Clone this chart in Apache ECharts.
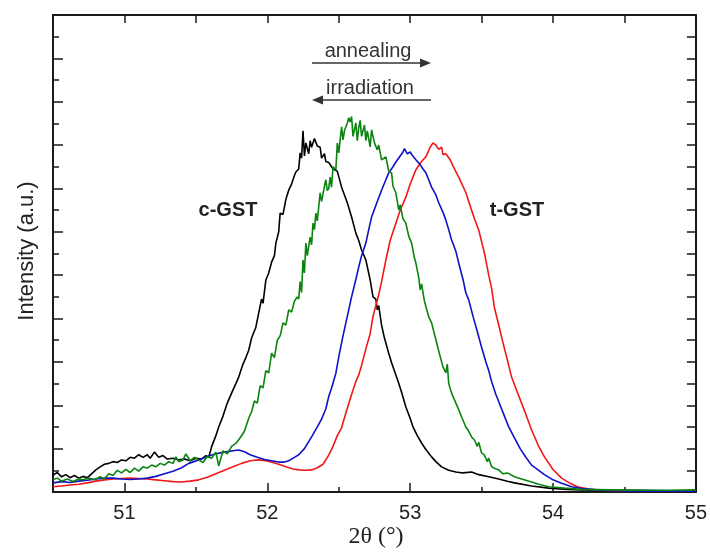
<!DOCTYPE html>
<html>
<head>
<meta charset="utf-8">
<script src="https://cdn.jsdelivr.net/npm/echarts@6/dist/echarts.min.js"></script>
<style>
html,body{margin:0;padding:0;background:#fff;}
#chart{width:710px;height:552px;}
</style>
</head>
<body>
<div id="chart"></div>
<script>
// x tick labels (2theta, degrees)
const xTickLabels = [51, 52, 53, 54, 55];

// c-GST (black) : [2theta, intensity a.u.]
const blackData = [
[50.50,0.39],[50.53,0.45],[50.56,0.35],[50.59,0.40],[50.62,0.33],[50.65,0.38],[50.68,0.32],[50.71,0.36],[50.74,0.33],[50.77,0.42],
[50.80,0.51],[50.83,0.58],[50.86,0.64],[50.89,0.66],[50.92,0.70],[50.95,0.68],[50.98,0.74],[51.01,0.72],[51.04,0.80],[51.07,0.78],
[51.10,0.86],[51.13,0.80],[51.16,0.86],[51.18,0.78],[51.21,0.92],[51.24,0.80],[51.27,0.84],[51.30,0.76],[51.34,0.78],[51.38,0.74],
[51.42,0.76],[51.46,0.72],[51.50,0.78],[51.54,0.76],[51.57,0.84],[51.59,0.80],[51.61,1.04],[51.64,1.30],[51.66,1.50],[51.69,1.75],
[51.72,2.05],[51.75,2.28],[51.78,2.50],[51.80,2.65],[51.83,2.95],[51.85,3.10],[51.87,3.27],[51.89,3.55],[51.92,3.80],[51.94,4.13],
[51.96,4.45],[51.97,4.35],[51.99,4.89],[52.01,5.05],[52.03,5.30],[52.05,5.45],[52.06,5.74],[52.08,6.00],[52.09,6.43],[52.11,6.40],
[52.13,6.75],[52.15,6.96],[52.17,7.10],[52.19,7.30],[52.20,7.38],[52.22,7.45],[52.23,7.82],[52.24,7.70],[52.25,8.33],[52.26,7.75],
[52.27,8.05],[52.29,7.80],[52.30,8.10],[52.31,7.95],[52.33,8.15],[52.35,7.98],[52.37,7.95],[52.38,7.70],[52.40,7.80],[52.41,7.62],
[52.43,7.60],[52.46,7.45],[52.49,7.40],[52.52,7.03],[52.54,6.85],[52.56,6.67],[52.59,6.34],[52.62,5.97],[52.64,5.80],[52.66,5.58],
[52.69,5.35],[52.72,4.89],[52.74,4.50],[52.76,4.45],[52.77,4.20],[52.78,4.30],[52.80,3.85],[52.82,3.55],[52.85,3.20],[52.87,2.98],
[52.90,2.70],[52.92,2.51],[52.94,2.30],[52.97,1.96],[53.00,1.70],[53.02,1.50],[53.05,1.30],[53.08,1.13],[53.11,0.98],[53.15,0.81],
[53.18,0.70],[53.22,0.58],[53.27,0.50],[53.32,0.46],[53.37,0.44],[53.43,0.46],[53.48,0.40],[53.55,0.35],[53.62,0.30],[53.68,0.25],
[53.73,0.21],[53.85,0.14],[53.97,0.09],[54.10,0.06],[54.20,0.05],[54.40,0.04],[54.60,0.04],[54.80,0.03],[55.00,0.03]
];

// green
const greenData = [
[50.50,0.28],[50.53,0.32],[50.56,0.25],[50.60,0.30],[50.64,0.24],[50.68,0.30],[50.71,0.28],[50.75,0.32],[50.79,0.28],[50.83,0.35],
[50.86,0.30],[50.89,0.42],[50.92,0.38],[50.95,0.50],[50.98,0.44],[51.01,0.52],[51.04,0.45],[51.07,0.55],[51.10,0.48],[51.13,0.58],
[51.16,0.55],[51.19,0.62],[51.22,0.58],[51.25,0.66],[51.28,0.62],[51.31,0.70],[51.34,0.66],[51.36,0.81],[51.38,0.70],[51.41,0.74],
[51.43,0.88],[51.46,0.72],[51.49,0.80],[51.52,0.74],[51.55,0.68],[51.58,0.82],[51.61,0.78],[51.64,0.92],[51.66,0.60],[51.69,0.95],
[51.72,0.88],[51.75,1.05],[51.78,1.12],[51.81,1.25],[51.84,1.40],[51.87,1.70],[51.89,1.85],[51.91,2.10],[51.93,2.05],[51.95,2.45],
[51.97,2.40],[51.99,2.80],[52.01,2.75],[52.03,3.20],[52.05,3.10],[52.07,3.50],[52.09,3.60],[52.11,3.90],[52.13,3.85],[52.15,4.20],
[52.17,4.15],[52.19,4.40],[52.21,4.50],[52.22,4.45],[52.23,4.85],[52.24,4.60],[52.25,5.35],[52.26,5.05],[52.27,5.74],[52.28,5.45],
[52.30,5.88],[52.31,5.70],[52.32,6.20],[52.33,6.05],[52.34,6.43],[52.35,6.25],[52.37,6.90],[52.38,6.70],[52.40,7.05],[52.41,7.20],
[52.42,6.95],[52.43,7.00],[52.44,7.26],[52.45,7.03],[52.46,7.50],[52.48,7.43],[52.49,8.05],[52.50,7.82],[52.52,8.42],[52.53,8.12],
[52.54,8.33],[52.56,8.51],[52.57,8.63],[52.58,8.53],[52.59,8.66],[52.60,8.20],[52.62,8.51],[52.63,8.10],[52.64,8.40],[52.65,8.57],
[52.66,8.20],[52.68,8.46],[52.69,8.10],[52.70,8.33],[52.72,7.96],[52.73,8.35],[52.75,8.05],[52.77,7.89],[52.78,8.00],[52.80,7.66],
[52.83,7.73],[52.85,7.40],[52.87,7.36],[52.88,7.05],[52.90,6.90],[52.92,6.50],[52.93,6.62],[52.95,6.30],[52.97,6.20],[52.99,5.90],
[53.01,5.74],[53.03,5.40],[53.04,5.28],[53.06,4.95],[53.07,4.66],[53.08,4.80],[53.10,4.40],[53.13,4.04],[53.15,3.90],[53.18,3.51],
[53.20,3.25],[53.23,2.88],[53.25,2.75],[53.26,2.95],[53.27,2.50],[53.29,2.28],[53.32,2.05],[53.34,1.90],[53.36,1.73],[53.39,1.50],
[53.41,1.40],[53.43,1.27],[53.45,1.20],[53.47,1.05],[53.48,1.15],[53.50,0.90],[53.52,0.85],[53.54,0.70],[53.55,0.78],[53.57,0.58],
[53.59,0.55],[53.62,0.51],[53.65,0.42],[53.68,0.44],[53.73,0.35],[53.78,0.30],[53.85,0.23],[53.90,0.18],[53.97,0.12],[54.08,0.09],
[54.20,0.06],[54.40,0.05],[54.60,0.04],[54.80,0.04],[55.00,0.05]
];

// blue
const blueData = [
[50.50,0.21],[50.56,0.24],[50.62,0.22],[50.68,0.25],[50.74,0.27],[50.80,0.30],[50.86,0.32],[50.92,0.32],[50.98,0.30],[51.04,0.29],
[51.10,0.30],[51.16,0.32],[51.22,0.36],[51.28,0.42],[51.34,0.48],[51.40,0.56],[51.45,0.66],[51.52,0.74],[51.58,0.82],[51.64,0.88],
[51.70,0.92],[51.76,0.95],[51.80,0.97],[51.84,0.93],[51.88,0.86],[51.93,0.80],[51.98,0.75],[52.03,0.72],[52.08,0.69],[52.12,0.69],
[52.15,0.72],[52.19,0.80],[52.22,0.86],[52.26,1.00],[52.31,1.27],[52.35,1.50],[52.38,1.68],[52.41,1.92],[52.43,2.20],[52.45,2.40],
[52.48,2.74],[52.50,3.11],[52.53,3.60],[52.55,3.90],[52.57,4.20],[52.59,4.50],[52.62,4.90],[52.64,5.19],[52.66,5.45],[52.69,5.74],
[52.71,6.05],[52.73,6.34],[52.77,6.70],[52.80,6.96],[52.83,7.20],[52.85,7.36],[52.88,7.50],[52.90,7.61],[52.93,7.75],[52.95,7.84],
[52.96,7.92],[52.98,7.80],[53.00,7.84],[53.02,7.74],[53.04,7.66],[53.07,7.55],[53.09,7.45],[53.11,7.36],[53.13,7.20],[53.15,7.03],
[53.18,6.85],[53.20,6.67],[53.23,6.45],[53.25,6.27],[53.27,6.05],[53.29,5.81],[53.32,5.55],[53.34,5.28],[53.37,4.90],[53.39,4.59],
[53.41,4.43],[53.44,4.05],[53.47,3.70],[53.50,3.34],[53.53,3.00],[53.55,2.80],[53.57,2.55],[53.60,2.25],[53.63,2.00],[53.66,1.75],
[53.69,1.50],[53.73,1.25],[53.77,1.00],[53.81,0.80],[53.85,0.62],[53.90,0.50],[53.94,0.40],[54.00,0.28],[54.06,0.20],[54.13,0.12],
[54.20,0.08],[54.30,0.05],[54.43,0.03],[54.60,0.02],[54.80,0.02],[55.00,0.02]
];

// red (t-GST)
const redData = [
[50.50,0.12],[50.56,0.14],[50.62,0.16],[50.68,0.18],[50.74,0.21],[50.80,0.25],[50.86,0.28],[50.92,0.30],[50.98,0.31],[51.04,0.32],
[51.10,0.31],[51.16,0.30],[51.22,0.28],[51.28,0.26],[51.34,0.24],[51.40,0.23],[51.46,0.25],[51.52,0.28],[51.58,0.34],[51.64,0.42],
[51.70,0.50],[51.76,0.58],[51.82,0.66],[51.88,0.72],[51.94,0.74],[51.99,0.72],[52.04,0.68],[52.08,0.64],[52.13,0.58],[52.18,0.53],
[52.22,0.51],[52.27,0.50],[52.31,0.51],[52.35,0.56],[52.39,0.64],[52.43,0.85],[52.46,1.05],[52.49,1.30],[52.52,1.48],[52.55,1.82],
[52.59,2.25],[52.62,2.55],[52.64,2.70],[52.66,2.92],[52.69,3.30],[52.72,3.65],[52.74,4.05],[52.76,4.30],[52.78,4.55],[52.80,4.85],
[52.83,5.35],[52.86,5.80],[52.90,6.20],[52.93,6.50],[52.97,6.80],[53.00,7.10],[53.04,7.43],[53.08,7.62],[53.11,7.73],[53.14,7.95],
[53.16,8.05],[53.18,8.00],[53.20,7.90],[53.22,7.95],[53.23,7.78],[53.25,7.80],[53.28,7.66],[53.31,7.45],[53.34,7.26],[53.37,7.05],
[53.39,6.90],[53.43,6.50],[53.45,6.30],[53.48,6.04],[53.52,5.51],[53.55,5.00],[53.57,4.70],[53.59,4.25],[53.62,3.85],[53.65,3.44],
[53.68,3.05],[53.71,2.65],[53.75,2.30],[53.78,2.05],[53.82,1.70],[53.85,1.43],[53.90,1.05],[53.94,0.81],[54.00,0.52],[54.06,0.32],
[54.12,0.20],[54.17,0.12],[54.25,0.07],[54.31,0.05],[54.45,0.03],[54.60,0.03],[54.80,0.03],[55.00,0.03]
];

const chart = echarts.init(document.getElementById('chart'), null, {renderer: 'canvas'});
const axisColor = '#1a1a1a';
const lineStyleAx = {color: axisColor, width: 2};
const sans = 'Liberation Sans, Arial, sans-serif';

function series(name, data, color) {
  return {
    name: name, type: 'line', data: data, xAxisIndex: 0, yAxisIndex: 0,
    showSymbol: false, symbol: 'none', smooth: false,
    lineStyle: {color: color, width: 1.6},
    emphasis: {disabled: true}, silent: true, z: 3
  };
}

const option = {
  animation: false,
  backgroundColor: '#ffffff',
  grid: {left: 53, right: 12, top: 15, bottom: 60, containLabel: false},
  xAxis: [
    {
      type: 'value', position: 'bottom', min: 50.5, max: 55, interval: 0.5,
      axisLine: {show: true, onZero: false, lineStyle: lineStyleAx},
      axisTick: {show: true, inside: true, length: 5, lineStyle: {color: axisColor, width: 1.5}},
      axisLabel: {
        show: true, margin: 11, fontSize: 20, color: '#222', fontFamily: sans,
        customValues: xTickLabels,
        formatter: function (v) { return Math.abs(v - Math.round(v)) < 1e-6 ? String(Math.round(v)) : ''; }
      },
      splitLine: {show: false}
    },
    {
      type: 'value', position: 'bottom', min: 50.5, max: 55, interval: 0.5,
      axisLine: {show: false, onZero: false},
      axisTick: {show: true, inside: true, length: 9, customValues: xTickLabels, lineStyle: {color: axisColor, width: 1.5}},
      axisLabel: {show: false},
      splitLine: {show: false}
    },
    {
      type: 'value', position: 'top', min: 50.5, max: 55, interval: 0.5,
      axisLine: {show: true, onZero: false, lineStyle: lineStyleAx},
      axisTick: {show: true, inside: true, length: 8, lineStyle: {color: axisColor, width: 1.5}},
      axisLabel: {show: false},
      splitLine: {show: false}
    }
  ],
  yAxis: [
    {
      type: 'value', position: 'left', min: 0, max: 11, interval: 1,
      axisLine: {show: true, onZero: false, lineStyle: lineStyleAx},
      axisTick: {show: true, inside: true, length: 10, lineStyle: {color: axisColor, width: 1.5}},
      minorTick: {show: true, splitNumber: 2, length: 6, lineStyle: {color: axisColor, width: 1.5}},
      axisLabel: {show: false},
      splitLine: {show: false}
    },
    {
      type: 'value', position: 'right', min: 0, max: 11, interval: 0.5,
      axisLine: {show: true, onZero: false, lineStyle: lineStyleAx},
      axisTick: {show: true, inside: true, length: 9, lineStyle: {color: axisColor, width: 1.5}},
      axisLabel: {show: false},
      splitLine: {show: false}
    }
  ],
  series: [
    series('c-GST', blackData, '#000000'),
    series('red', redData, '#f01818'),
    series('blue', blueData, '#1010c8'),
    series('green', greenData, '#0a840f')
  ],
  graphic: [
    {type: 'text', x: 27, y: 251, rotation: Math.PI / 2, style: {text: 'Intensity (a.u.)', x: 0, y: 0, fontSize: 22, fill: '#222', fontFamily: sans, textAlign: 'center', textVerticalAlign: 'middle'}},
    {type: 'text', style: {text: '2θ (°)', x: 376, y: 537, fontSize: 24, fill: '#222', fontFamily: 'Liberation Serif, Times New Roman, serif', textAlign: 'center', textVerticalAlign: 'middle'}},
    {type: 'text', style: {text: 'c-GST', x: 228, y: 210, fontSize: 20, fontWeight: 'bold', fill: '#222', fontFamily: sans, textAlign: 'center', textVerticalAlign: 'middle'}},
    {type: 'text', style: {text: 't-GST', x: 517, y: 210, fontSize: 20, fontWeight: 'bold', fill: '#222', fontFamily: sans, textAlign: 'center', textVerticalAlign: 'middle'}},
    {type: 'text', style: {text: 'annealing', x: 368, y: 51, fontSize: 20, fill: '#333', fontFamily: sans, textAlign: 'center', textVerticalAlign: 'middle'}},
    {type: 'line', shape: {x1: 312, y1: 63, x2: 422, y2: 63}, style: {stroke: '#333', lineWidth: 1.6}},
    {type: 'polygon', shape: {points: [[431, 63], [420, 58.5], [420, 67.5]]}, style: {fill: '#333'}},
    {type: 'text', style: {text: 'irradiation', x: 370, y: 88, fontSize: 20, fill: '#333', fontFamily: sans, textAlign: 'center', textVerticalAlign: 'middle'}},
    {type: 'line', shape: {x1: 321, y1: 100, x2: 431, y2: 100}, style: {stroke: '#333', lineWidth: 1.6}},
    {type: 'polygon', shape: {points: [[312, 100], [323, 95.5], [323, 104.5]]}, style: {fill: '#333'}}
  ]
};
chart.setOption(option);
</script>
</body>
</html>
